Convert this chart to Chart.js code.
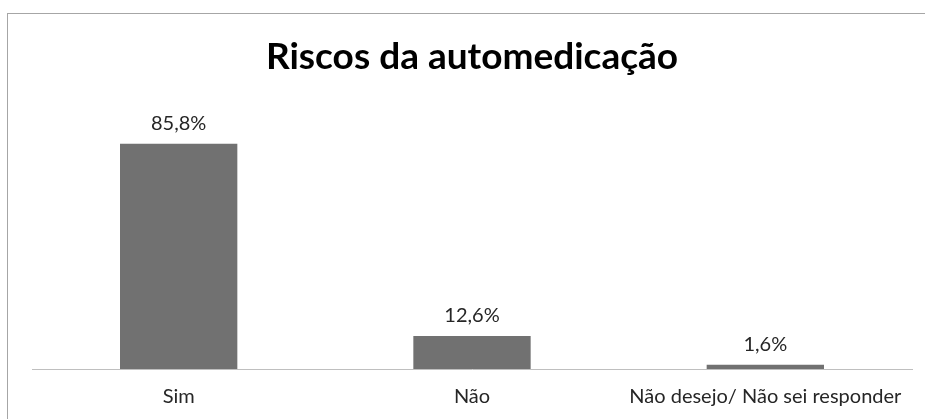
<!DOCTYPE html>
<html>
<head>
<meta charset="utf-8">
<script src="https://cdn.jsdelivr.net/npm/chart.js@4.4.1/dist/chart.umd.min.js"></script>
<style>
html,body{margin:0;padding:0;background:#fff;}
#wrap{position:relative;width:925px;height:419px;}
</style>
</head>
<body>
<div id="wrap"><canvas id="c" width="925" height="419"></canvas></div>
<script>
const chartTitle = "Riscos da automedicação";
const categories = ["Sim", "Não", "Não desejo/ Não sei responder"];
const values = [85.8, 12.6, 1.6];
const valueLabels = ["85,8%", "12,6%", "1,6%"];

const frameAndLabels = {
  id: 'frameAndLabels',
  afterDatasetsDraw(chart) {
    const ctx = chart.ctx;
    ctx.save();
    ctx.strokeStyle = '#a6a6a6';
    ctx.lineWidth = 1;
    ctx.strokeRect(7.5, 13.5, 940, 420);
    const meta = chart.getDatasetMeta(0);
    ctx.fillStyle = '#262626';
    ctx.font = '20px Lato';
    ctx.textAlign = 'center';
    ctx.textBaseline = 'middle';
    meta.data.forEach((bar, i) => {
      ctx.fillText(valueLabels[i], bar.x, bar.y - 20);
    });
    ctx.restore();
  }
};

new Chart(document.getElementById('c'), {
  type: 'bar',
  data: {
    labels: categories,
    datasets: [{
      data: values,
      backgroundColor: '#717171',
      barPercentage: 0.4,
      categoryPercentage: 1.0
    }]
  },
  options: {
    responsive: false,
    animation: false,
    layout: { padding: { left: 32, right: 13, top: 0, bottom: 0 } },
    plugins: {
      legend: { display: false },
      tooltip: { enabled: false },
      title: {
        display: true,
        text: chartTitle,
        color: '#000',
        font: { family: 'Lato', size: 37, weight: 'bold', lineHeight: 1.2 },
        padding: { top: 35, bottom: 27 }
      }
    },
    scales: {
      x: {
        grid: { display: false, drawTicks: false },
        border: { display: true, color: '#bfbfbf', width: 1 },
        ticks: { color: '#262626', font: { family: 'Lato', size: 20 }, padding: 16, maxRotation: 0 },
        afterFit(scale) { scale.height = 50; }
      },
      y: {
        display: false,
        min: 0,
        max: 100
      }
    }
  },
  plugins: [frameAndLabels]
});
</script>
</body>
</html>
